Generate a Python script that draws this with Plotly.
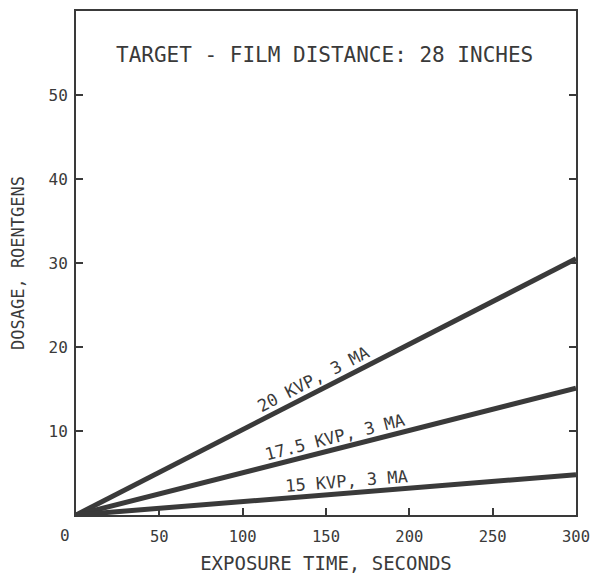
import math
import plotly.graph_objects as go

# Data
time_s = [0, 300]
series_names = ["20 KVP, 3 MA", "17.5 KVP, 3 MA", "15 KVP, 3 MA"]
dose_20kvp = [0, 30.5]
dose_17_5kvp = [0, 15.1]
dose_15kvp = [0, 4.8]
x_ticks = [50, 100, 150, 200, 250, 300]
x_zero_label = "0"
y_ticks = [10, 20, 30, 40, 50]
title_text = "TARGET - FILM DISTANCE: 28 INCHES"
x_title = "EXPOSURE TIME, SECONDS"
y_title = "DOSAGE, ROENTGENS"

series = [dose_20kvp, dose_17_5kvp, dose_15kvp]
label_t = [146, 157, 163]

# page body has an 8px default margin; size the figure so it fits the window
W, H = 583, 566
ml, mr, mt, mb = 68, 14, 1, 59
xr = [0, 300]
yr = [0, 60]
pw, ph = W - ml - mr, H - mt - mb

ink = "#3a3a3a"
font_fam = "DejaVu Sans Mono"

fig = go.Figure()
for name, ys in zip(series_names, series):
    fig.add_trace(go.Scatter(x=time_s, y=ys, mode="lines", name=name,
                             line=dict(color=ink, width=5), showlegend=False))

for name, ys, t in zip(series_names, series, label_t):
    slope = (ys[1] - ys[0]) / (time_s[1] - time_s[0])
    yv = ys[0] + slope * (t - time_s[0])
    ang = math.degrees(math.atan(slope * (ph / (yr[1] - yr[0])) / (pw / (xr[1] - xr[0]))))
    d = 12.5
    fig.add_annotation(x=t, y=yv, text=name, showarrow=False, textangle=-ang,
                       yshift=d * math.cos(math.radians(ang)),
                       xshift=-d * math.sin(math.radians(ang)),
                       font=dict(family=font_fam, size=17, color=ink))

fig.add_annotation(x=0.497, y=54.8, xref="paper", yref="y", text=title_text,
                   showarrow=False, font=dict(family=font_fam, size=21, color=ink))

# the "0" label sits left of the corner in the original
fig.add_annotation(x=0, y=0, xref="x", yref="y", text=x_zero_label, showarrow=False,
                   xshift=-11, yshift=-20, font=dict(family=font_fam, size=16, color=ink))

fig.update_layout(
    width=W, height=H,
    margin=dict(l=ml, r=mr, t=mt, b=mb),
    plot_bgcolor="white", paper_bgcolor="white",
    font=dict(family=font_fam, size=16, color=ink),
)
fig.update_xaxes(range=xr, tickvals=x_ticks, ticks="inside", ticklen=7, tickwidth=1.5,
                 tickcolor=ink, showline=True, linecolor=ink, linewidth=2, mirror=True,
                 showgrid=False, zeroline=False, ticklabelstandoff=6,
                 ticklabeloverflow="allow",
                 title=dict(text=x_title, font=dict(size=19), standoff=13),
                 tickfont=dict(size=15.5))
fig.update_yaxes(range=yr, tickvals=y_ticks, ticks="inside", ticklen=7, tickwidth=1.5,
                 tickcolor=ink, showline=True, linecolor=ink, linewidth=2, mirror="ticks",
                 showgrid=False, zeroline=False, ticklabelstandoff=3,
                 title=dict(text=y_title, font=dict(size=17), standoff=20),
                 tickfont=dict(size=16))

fig.write_html("out.html")
